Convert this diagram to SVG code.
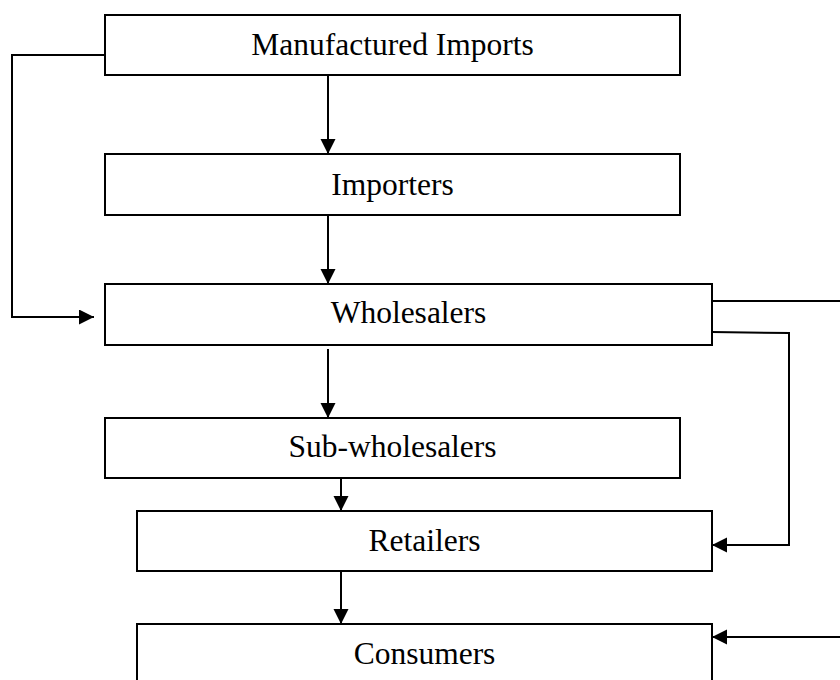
<svg xmlns="http://www.w3.org/2000/svg" width="840" height="680" viewBox="0 0 840 680">
<style>
.box{fill:#fff;stroke:#000;stroke-width:2}
.lbl{font-family:"Liberation Serif","Times New Roman",serif;font-size:31.5px;fill:#000;text-anchor:middle}
.con{fill:none;stroke:#000;stroke-width:2}
</style>
<defs>
<marker id="ah" markerUnits="userSpaceOnUse" markerWidth="16" markerHeight="16" refX="15" refY="7.5" orient="auto">
<path d="M0,0 L15,7.5 L0,15 z" fill="#000"/>
</marker>
</defs>
<rect width="840" height="680" fill="#fff"/>
<g id="n-manufactured"><rect class="box" x="105" y="15" width="575" height="60"/><text class="lbl" x="392.5" y="55">Manufactured Imports</text></g>
<g id="n-importers"><rect class="box" x="105" y="154" width="575" height="61"/><text class="lbl" x="392.5" y="195">Importers</text></g>
<g id="n-wholesalers"><rect class="box" x="105" y="284" width="607" height="61"/><text class="lbl" x="408.5" y="323">Wholesalers</text></g>
<g id="n-subwholesalers"><rect class="box" x="105" y="418" width="575" height="60"/><text class="lbl" x="392.5" y="457">Sub-wholesalers</text></g>
<g id="n-retailers"><rect class="box" x="137" y="511" width="575" height="60"/><text class="lbl" x="424.5" y="551">Retailers</text></g>
<g id="n-consumers"><rect class="box" x="137" y="624" width="575" height="70"/><text class="lbl" x="424.5" y="664">Consumers</text></g>
<g id="connectors">
<path class="con" d="M328,75 V154" marker-end="url(#ah)"/>
<path class="con" d="M328,215 V284" marker-end="url(#ah)"/>
<path class="con" d="M328,349 V418" marker-end="url(#ah)"/>
<path class="con" d="M341,478 V511" marker-end="url(#ah)"/>
<path class="con" d="M341,571 V624" marker-end="url(#ah)"/>
<path class="con" d="M105,55 H12 V317 H94" marker-end="url(#ah)"/>
<path class="con" d="M712,301 H842"/>
<path class="con" d="M712,332 L789,333 V545 H712" marker-end="url(#ah)"/>
<path class="con" d="M842,637 H712" marker-end="url(#ah)"/>
</g>
</svg>
